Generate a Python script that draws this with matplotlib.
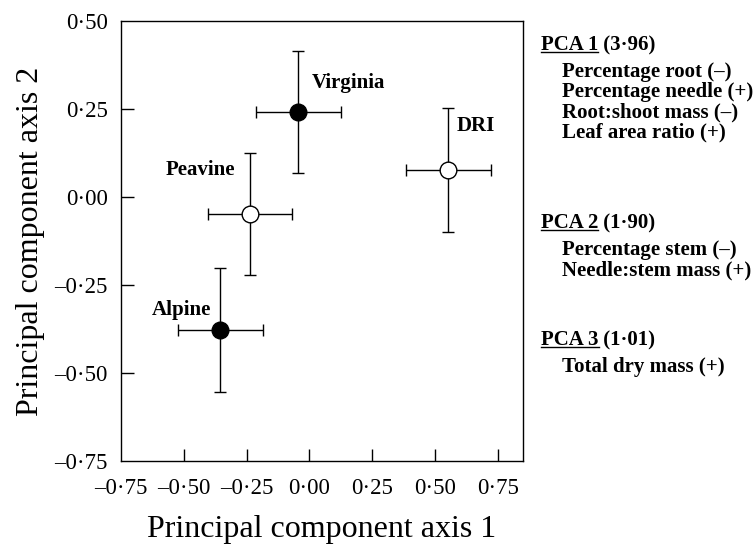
import matplotlib
matplotlib.use("Agg")
import matplotlib.pyplot as plt
from matplotlib.ticker import FuncFormatter
from matplotlib.lines import Line2D

plt.rcParams['font.family'] = ['Liberation Serif', 'DejaVu Serif']

# population means on the first two principal component axes
names = ["Virginia", "DRI", "Peavine", "Alpine"]
pc1 = [-0.044, 0.552, -0.235, -0.354]
pc2 = [0.242, 0.077, -0.048, -0.377]
pc1_err = [0.168, 0.169, 0.167, 0.170]
pc2_err = [0.173, 0.177, 0.174, 0.176]
filled = [True, False, False, True]

# label offsets (points) for each population name
label_dx = [9.6, 6.0, -10.8, -6.7]
label_dy = [20.5, 31.5, 31.5, 14.0]
label_ha = ["left", "left", "right", "right"]

ticks = [-0.75, -0.50, -0.25, 0.00, 0.25, 0.50, 0.75]

# loadings listed beside the plot
pca_heads = ["PCA 1", "PCA 2", "PCA 3"]
pca_eigen = ["(3\u00b796)", "(1\u00b790)", "(1\u00b701)"]
pca_vars = [
    ["Percentage root (\u2013)", "Percentage needle (+)",
     "Root:shoot mass (\u2013)", "Leaf area ratio (+)"],
    ["Percentage stem (\u2013)", "Needle:stem mass (+)"],
    ["Total dry mass (+)"],
]


def fmt(v, pos):
    s = "%.2f" % abs(v)
    s = s.replace(".", "\u00b7")
    if v < -1e-9:
        s = "\u2013" + s
    return s


W, H = 754, 549
fig = plt.figure(figsize=(W / 100, H / 100), dpi=100)
ax = fig.add_axes([121 / W, 88 / H, 402 / W, 440 / H])

for i in range(len(names)):
    ax.errorbar(pc1[i], pc2[i], xerr=pc1_err[i], yerr=pc2_err[i],
                fmt="o", ms=12, mfc="black" if filled[i] else "white",
                mec="black", mew=1.0, ecolor="black", elinewidth=1.0,
                capsize=4.3, capthick=1.0, zorder=3)
    ax.annotate(names[i], (pc1[i], pc2[i]), xytext=(label_dx[i], label_dy[i]),
                textcoords="offset points", ha=label_ha[i], va="center",
                fontsize=15, fontweight="bold")

ax.set_xlim(-0.75, 0.85)
ax.set_ylim(-0.75, 0.50)
ax.set_xticks(ticks)
ax.set_yticks(ticks[:-1])
ax.xaxis.set_major_formatter(FuncFormatter(fmt))
ax.yaxis.set_major_formatter(FuncFormatter(fmt))
ax.tick_params(direction="in", length=9, width=1.0, labelsize=16.5,
               top=False, right=False)
ax.tick_params(axis="x", pad=12)
ax.tick_params(axis="y", pad=9.5)
# tick marks that sit on the frame are not drawn
ax.xaxis.get_major_ticks()[0].tick1line.set_visible(False)
yt = ax.yaxis.get_major_ticks()
yt[0].tick1line.set_visible(False)
yt[-1].tick1line.set_visible(False)
for sp in ax.spines.values():
    sp.set_linewidth(1.0)

ax.set_xlabel("Principal component axis 1", fontsize=23, labelpad=12)
ax.set_ylabel("Principal component axis 2", fontsize=23, labelpad=7)

# side text block
head_y = [45, 223, 340]
x_head = 541 / W
x_item = 562 / W
heads = []
for k in range(3):
    y = 1 - head_y[k] / H
    t = fig.text(x_head, y, pca_heads[k], fontsize=15, fontweight="bold",
                 va="center", ha="left")
    ax.annotate(" " + pca_eigen[k], xy=(1, 0), xycoords=t, va="bottom",
                ha="left", fontsize=15, fontweight="bold",
                annotation_clip=False)
    heads.append(t)
    for j, v in enumerate(pca_vars[k]):
        yy = head_y[k] + 27 + 20 * j
        fig.text(x_item, 1 - yy / H, v, fontsize=15, fontweight="bold",
                 va="center", ha="left")

fig.canvas.draw()
r = fig.canvas.get_renderer()
for t in heads:
    bb = t.get_window_extent(renderer=r)
    yline = (bb.y0 + 3) / H
    fig.add_artist(Line2D([bb.x0 / W, bb.x1 / W], [yline, yline],
                          color="black", lw=1.0, transform=fig.transFigure))

fig.savefig("out.png", dpi=100)
